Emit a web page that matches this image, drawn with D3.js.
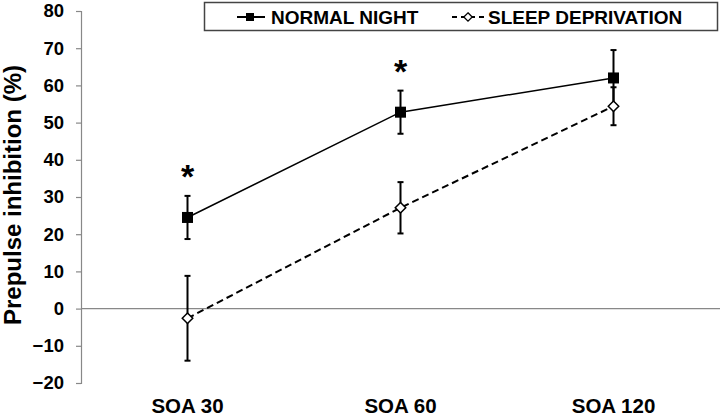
<!DOCTYPE html>
<html><head><meta charset="utf-8">
<script src="https://cdn.jsdelivr.net/npm/d3@7/dist/d3.min.js"></script>
<style>
html,body{margin:0;padding:0;background:#fff;}
svg{display:block;font-family:Arial,"Liberation Sans",sans-serif;}
</style></head>
<body><svg id="c" width="720" height="418"></svg>
<script>
const categories = ["SOA 30", "SOA 60", "SOA 120"];
const normalNight = [24.5, 52.8, 62.0];
const normalErr = [5.8, 5.8, 7.5];
const sleepDep = [-2.6, 27.1, 54.4];
const sleepErr = [11.4, 6.9, 5.1];
const significant = [true, true, false];
const yTicks = [-20, -10, 0, 10, 20, 30, 40, 50, 60, 70, 80];
const seriesNames = ["NORMAL NIGHT", "SLEEP DEPRIVATION"];

const svg = d3.select("#c");
const x = d3.scaleBand().domain(categories).range([81, 720]);
const y = d3.scaleLinear().domain([-20, 80]).range([383, 11]);
const cx = c => x(c) + x.bandwidth() / 2;

// y axis
const yAxis = svg.append("g").attr("transform", "translate(81,0)")
  .call(d3.axisLeft(y).tickValues(yTicks).tickSize(5).tickPadding(12).tickFormat(d3.format("d")));
yAxis.select(".domain").attr("stroke", "#888").attr("stroke-width", 1.2);
yAxis.selectAll(".tick line").attr("stroke", "#888").attr("stroke-width", 1.2);
yAxis.selectAll(".tick text").attr("fill", "#000").attr("font-size", 18.5).attr("font-weight", "bold")
  .attr("font-family", "Arial, 'Liberation Sans', sans-serif");

// zero line
svg.append("line").attr("x1", 81).attr("x2", 720).attr("y1", y(0)).attr("y2", y(0))
  .attr("stroke", "#888").attr("stroke-width", 1.2);

// x labels
svg.append("g").selectAll("text").data(categories).join("text")
  .attr("x", d => cx(d)).attr("y", 412.5).attr("text-anchor", "middle")
  .attr("font-size", 20.5).attr("font-weight", "bold").text(d => d);

// y title
svg.append("text").attr("transform", `translate(21,195) rotate(-90)`)
  .attr("text-anchor", "middle").attr("font-size", 24).attr("font-weight", "bold")
  .text("Prepulse inhibition (%)");

const line = d3.line().x(d => cx(d.c)).y(d => y(d.v));
const normalData = categories.map((c, i) => ({c, v: normalNight[i], e: normalErr[i]}));
const sleepData = categories.map((c, i) => ({c, v: sleepDep[i], e: sleepErr[i]}));

function errBars(data) {
  const g = svg.append("g").attr("stroke", "#000").attr("stroke-width", 2);
  data.forEach(d => {
    g.append("line").attr("x1", cx(d.c)).attr("x2", cx(d.c)).attr("y1", y(d.v - d.e)).attr("y2", y(d.v + d.e));
    [d.v - d.e, d.v + d.e].forEach(v => g.append("line").attr("x1", cx(d.c) - 3).attr("x2", cx(d.c) + 3).attr("y1", y(v)).attr("y2", y(v)));
  });
}
errBars(sleepData);
errBars(normalData);

svg.append("path").datum(sleepData).attr("d", line).attr("fill", "none")
  .attr("stroke", "#000").attr("stroke-width", 2).attr("stroke-dasharray", "7,4");
svg.append("path").datum(normalData).attr("d", line).attr("fill", "none")
  .attr("stroke", "#000").attr("stroke-width", 1.5);

svg.append("g").selectAll("path").data(sleepData).join("path")
  .attr("d", d3.symbol().type(d3.symbolDiamond2).size(70))
  .attr("transform", d => `translate(${cx(d.c)},${y(d.v)})`)
  .attr("fill", "#fff").attr("stroke", "#000").attr("stroke-width", 1.5);
svg.append("g").selectAll("rect").data(normalData).join("rect")
  .attr("x", d => cx(d.c) - 5.5).attr("y", d => y(d.v) - 5.5).attr("width", 11).attr("height", 11)
  .attr("fill", "#000");

// asterisks
svg.append("g").selectAll("text").data(normalData.filter((d, i) => significant[i])).join("text")
  .attr("x", d => cx(d.c)).attr("y", d => y(d.v + d.e) - 8).attr("text-anchor", "middle")
  .attr("font-size", 34).attr("font-weight", "bold").text("*");

// legend
const lg = svg.append("g");
lg.append("rect").attr("x", 204.5).attr("y", 2.5).attr("width", 513).attr("height", 28)
  .attr("fill", "#fff").attr("stroke", "#444").attr("stroke-width", 1.5);
lg.append("line").attr("x1", 237).attr("x2", 265).attr("y1", 17).attr("y2", 17).attr("stroke", "#000").attr("stroke-width", 2);
lg.append("rect").attr("x", 246).attr("y", 13).attr("width", 8).attr("height", 8).attr("fill", "#000");
lg.append("text").attr("x", 271).attr("y", 23.5).attr("font-size", 19).attr("font-weight", "bold").text(seriesNames[0]);
lg.append("line").attr("x1", 452).attr("x2", 486).attr("y1", 17).attr("y2", 17).attr("stroke", "#000").attr("stroke-width", 2).attr("stroke-dasharray", "5,4");
lg.append("path").attr("d", d3.symbol().type(d3.symbolDiamond2).size(45)).attr("transform", "translate(468,17)")
  .attr("fill", "#fff").attr("stroke", "#000").attr("stroke-width", 1.3);
lg.append("text").attr("x", 488).attr("y", 23.5).attr("font-size", 19).attr("font-weight", "bold").text(seriesNames[1]);
</script></body></html>
